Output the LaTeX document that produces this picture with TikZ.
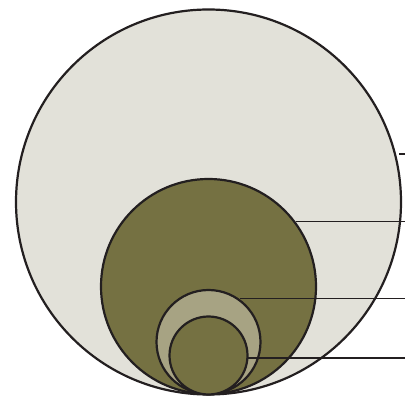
\documentclass[tikz,border=0pt]{standalone}
\definecolor{paleC}{HTML}{E2E1D9}
\definecolor{oliveC}{HTML}{757142}
\definecolor{tanC}{HTML}{A7A383}
\definecolor{inkC}{HTML}{231F20}
\begin{document}
\begin{tikzpicture}[x=1pt,y=-1pt,
  ring/.style={circle,draw=inkC,line width=2.2pt,inner sep=0pt,outer sep=0pt},
  leader/.style={draw=inkC,line width=1.2pt}]
\useasboundingbox (0,0) rectangle (405,401);
\node[ring,fill=paleC,minimum size=385pt] (outer) at (208.5,202) {};
\node[ring,fill=oliveC,minimum size=215pt] (mid) at (208.5,286.5) {};
\node[ring,fill=tanC,minimum size=104pt] (tan) at (208.5,342) {};
\node[ring,fill=oliveC,minimum size=78pt] (core) at (208.5,355.5) {};
\coordinate (a1) at (399,154); \coordinate (b1) at (405,154);
\coordinate (a2) at (296,221.5); \coordinate (b2) at (405,221.5);
\coordinate (a3) at (240,298.5); \coordinate (b3) at (405,298.5);
\coordinate (a4) at (248,358); \coordinate (b4) at (405,358);
\draw[leader] (a1) -- (b1);
\draw[leader] (a2) -- (b2);
\draw[leader] (a3) -- (b3);
\draw[leader] (a4) -- (b4);
\end{tikzpicture}
\end{document}
